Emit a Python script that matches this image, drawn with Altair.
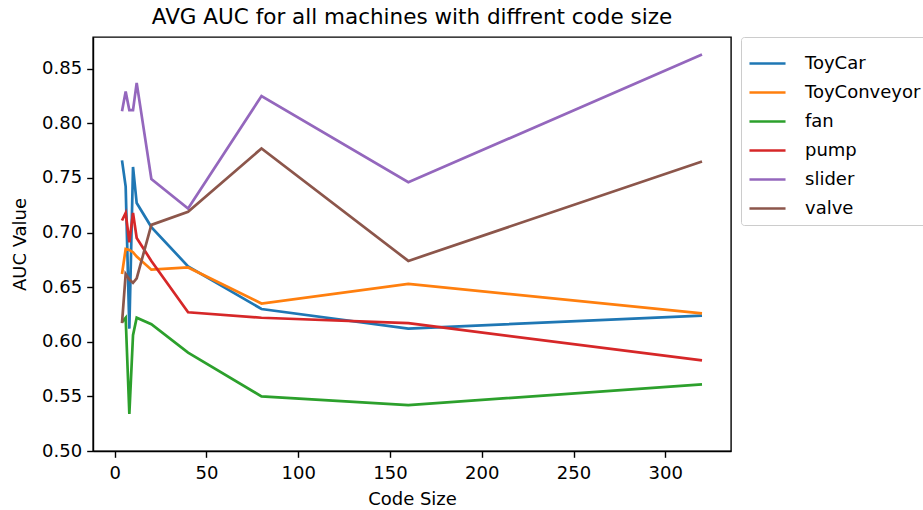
import altair as alt
import pandas as pd

# Code sizes evaluated
code_sizes = [4, 6, 8, 10, 12, 20, 40, 80, 160, 320]

# Average AUC per machine type at each code size
toycar = [0.766, 0.742, 0.612, 0.760, 0.727, 0.705, 0.669, 0.630, 0.612, 0.624]
toyconveyor = [0.662, 0.685, 0.684, 0.682, 0.678, 0.666, 0.668, 0.635, 0.653, 0.626]
fan = [0.618, 0.622, 0.534, 0.606, 0.622, 0.616, 0.590, 0.550, 0.542, 0.561]
pump = [0.711, 0.718, 0.691, 0.718, 0.695, 0.674, 0.627, 0.622, 0.617, 0.583]
slider = [0.811, 0.829, 0.812, 0.812, 0.837, 0.749, 0.722, 0.825, 0.746, 0.863]
valve = [0.617, 0.662, 0.657, 0.654, 0.658, 0.707, 0.719, 0.777, 0.674, 0.765]

machines = ["ToyCar", "ToyConveyor", "fan", "pump", "slider", "valve"]
series = [toycar, toyconveyor, fan, pump, slider, valve]
colors = ["#1f77b4", "#ff7f0e", "#2ca02c", "#d62728", "#9467bd", "#8c564b"]

rows = []
for name, vals in zip(machines, series):
    for cs, v in zip(code_sizes, vals):
        rows.append({"Code Size": cs, "AUC": v, "Machine": name})
df = pd.DataFrame(rows)

FONT = "DejaVu Sans"

chart = (
    alt.Chart(df)
    .mark_line(strokeWidth=2.7, clip=True)
    .encode(
        x=alt.X(
            "Code Size:Q",
            title="Code Size",
            scale=alt.Scale(domain=[-11.8, 335.8], nice=False, zero=False),
            axis=alt.Axis(values=[0, 50, 100, 150, 200, 250, 300], grid=False),
        ),
        y=alt.Y(
            "AUC:Q",
            title="AUC Value",
            scale=alt.Scale(domain=[0.5, 0.879], nice=False, zero=False),
            axis=alt.Axis(values=[0.5, 0.55, 0.6, 0.65, 0.7, 0.75, 0.8, 0.85], format=".2f", grid=False),
        ),
        color=alt.Color(
            "Machine:N",
            sort=machines,
            scale=alt.Scale(domain=machines, range=colors),
            legend=alt.Legend(
                title=None,
                orient="none",
                legendX=648,
                legendY=0,
                symbolType="stroke",
                symbolSize=1300,
                symbolStrokeWidth=2.7,
                labelFont=FONT,
                labelFontSize=18,
                labelColor="black",
                labelOffset=18,
                rowPadding=0,
                padding=7,
                fillColor="white",
                strokeColor="#cccccc",
                cornerRadius=3,
            ),
        ),
        order=alt.Order("Code Size:Q"),
    )
    .properties(
        width=638,
        height=414,
        title=alt.TitleParams(
            "AVG AUC for all machines with diffrent code size",
            font=FONT,
            fontSize=21.5,
            fontWeight="normal",
            color="black",
            offset=8,
        ),
        autosize=alt.AutoSizeParams(type="none"),
        padding={"left": 93, "top": 37, "right": 192, "bottom": 59},
    )
    .configure_view(stroke="black", strokeWidth=1.4)
    .configure_axis(
        domainColor="black",
        domainWidth=1.4,
        tickColor="black",
        tickWidth=1.4,
        tickSize=6.3,
        labelFont=FONT,
        labelFontSize=18,
        labelColor="black",
        labelPadding=5,
        titleFont=FONT,
        titleFontSize=18,
        titleFontWeight="normal",
        titleColor="black",
    )
    .configure_axisX(labelPadding=7, titlePadding=8)
    .configure_axisY(titlePadding=12)
)

chart.save("out.html", embed_options={"renderer": "svg", "actions": False})
